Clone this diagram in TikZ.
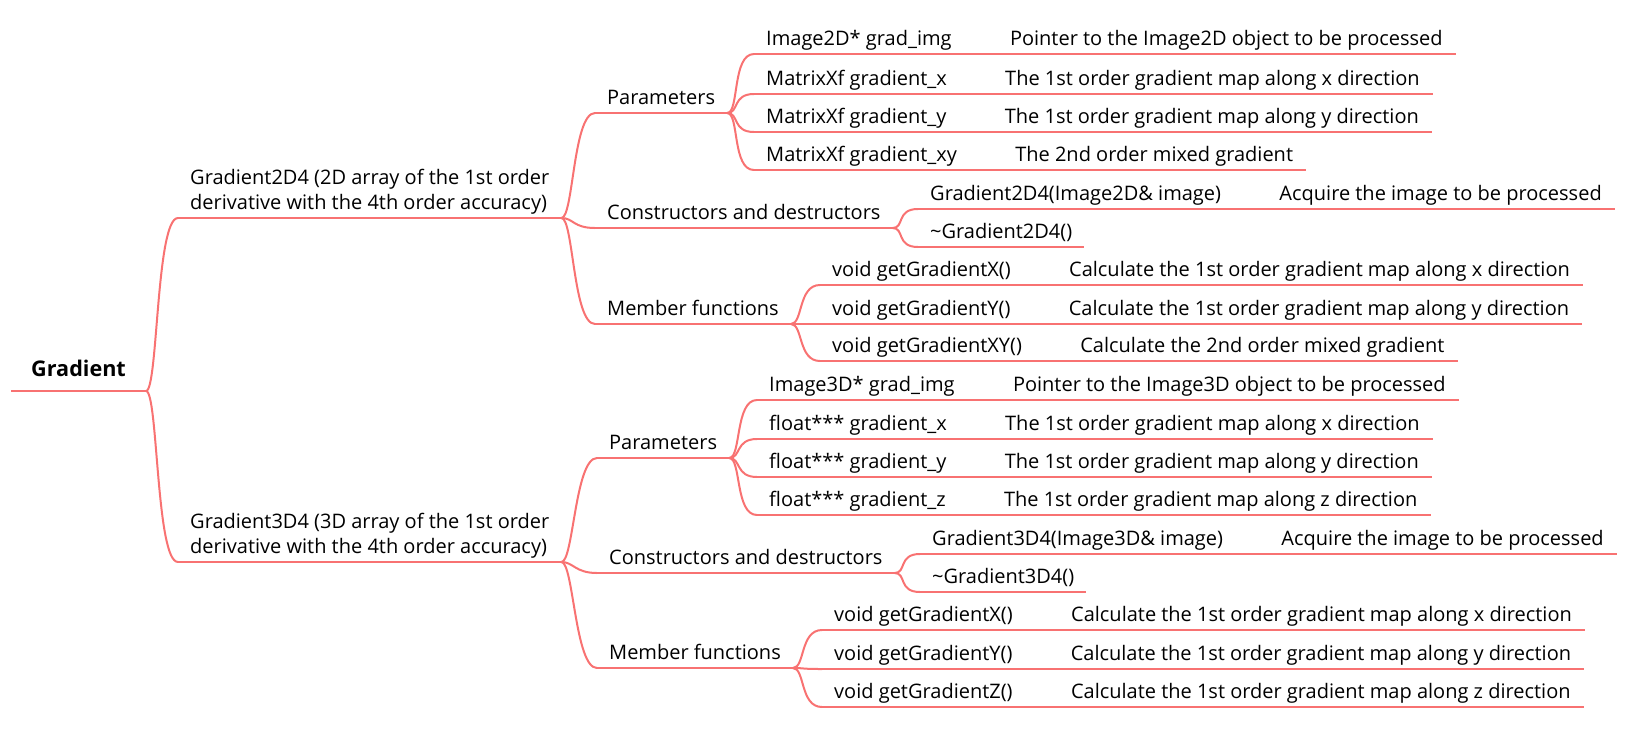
\documentclass[tikz,border=0pt]{standalone}
\usepackage{fontspec}
\setmainfont{Open Sans}
\usepackage{tikz}
\usetikzlibrary{positioning}
\definecolor{branchRed}{RGB}{248,114,114}

\begin{document}
\begin{tikzpicture}[x=1pt, y=-1pt,
  branch/.style={draw=branchRed, line width=2pt},
  topic/.style={anchor=south west, inner xsep=12pt, inner ysep=8pt, text depth=0pt,
    font=\fontsize{20}{25}\selectfont},
  rootnode/.style={topic, inner xsep=20pt, inner ysep=14pt,
    font=\fontsize{21.6}{26}\selectfont\bfseries},
  desc/.style={topic, right=33pt of #1, anchor=south west, inner xsep=13pt}]
\useasboundingbox (0,0) rectangle (1629,732);

\node[rootnode] (root) at (11,391) {Gradient};

% Gradient2D4
\node[topic] (g2) at (178,218) {\begin{tabular}[b]{@{}l@{}}Gradient2D4 (2D array of the 1st order\\derivative with the 4th order accuracy)\end{tabular}};
\node[topic] (p2) at (595,113) {Parameters};
\node[topic] (c2) at (595,228) {Constructors and destructors};
\node[topic] (m2) at (595,324) {Member functions};

\node[topic] (p2a) at (754,54) {Image2D* grad\_img};
\node[topic] (p2b) at (754,94) {MatrixXf gradient\_x};
\node[topic] (p2c) at (754,132) {MatrixXf gradient\_y};
\node[topic] (p2d) at (754,170) {MatrixXf gradient\_xy};
\node[topic] (c2a) at (918,209) {Gradient2D4(Image2D\& image)};
\node[topic] (c2b) at (918,247) {\textasciitilde Gradient2D4()};
\node[topic] (m2a) at (820,285) {void getGradientX()};
\node[topic] (m2b) at (820,324) {void getGradientY()};
\node[topic] (m2c) at (820,361) {void getGradientXY()};

\node[desc=p2a.south east] (dp2a) {Pointer to the Image2D object to be processed};
\node[desc=p2b.south east] (dp2b) {The 1st order gradient map along x direction};
\node[desc=p2c.south east] (dp2c) {The 1st order gradient map along y direction};
\node[desc=p2d.south east] (dp2d) {The 2nd order mixed gradient};
\node[desc=c2a.south east] (dc2a) {Acquire the image to be processed};
\node[desc=m2a.south east] (dm2a) {Calculate the 1st order gradient map along x direction};
\node[desc=m2b.south east] (dm2b) {Calculate the 1st order gradient map along y direction};
\node[desc=m2c.south east] (dm2c) {Calculate the 2nd order mixed gradient};

% Gradient3D4
\node[topic] (g3) at (178,562) {\begin{tabular}[b]{@{}l@{}}Gradient3D4 (3D array of the 1st order\\derivative with the 4th order accuracy)\end{tabular}};
\node[topic] (p3) at (597,458) {Parameters};
\node[topic] (c3) at (597,573) {Constructors and destructors};
\node[topic] (m3) at (597,668) {Member functions};

\node[topic] (p3a) at (757,400) {Image3D* grad\_img};
\node[topic] (p3b) at (757,439) {float*** gradient\_x};
\node[topic] (p3c) at (757,477) {float*** gradient\_y};
\node[topic] (p3d) at (757,515) {float*** gradient\_z};
\node[topic] (c3a) at (920,554) {Gradient3D4(Image3D\& image)};
\node[topic] (c3b) at (920,592) {\textasciitilde Gradient3D4()};
\node[topic] (m3a) at (822,630) {void getGradientX()};
\node[topic] (m3b) at (822,669) {void getGradientY()};
\node[topic] (m3c) at (822,707) {void getGradientZ()};

\node[desc=p3a.south east] (dp3a) {Pointer to the Image3D object to be processed};
\node[desc=p3b.south east] (dp3b) {The 1st order gradient map along x direction};
\node[desc=p3c.south east] (dp3c) {The 1st order gradient map along y direction};
\node[desc=p3d.south east] (dp3d) {The 1st order gradient map along z direction};
\node[desc=c3a.south east] (dc3a) {Acquire the image to be processed};
\node[desc=m3a.south east] (dm3a) {Calculate the 1st order gradient map along x direction};
\node[desc=m3b.south east] (dm3b) {Calculate the 1st order gradient map along y direction};
\node[desc=m3c.south east] (dm3c) {Calculate the 1st order gradient map along z direction};

% underlines
\foreach \n in {root,g2,p2,c2,m2,p2a,p2b,p2c,p2d,c2a,c2b,m2a,m2b,m2c,
    dp2a,dp2b,dp2c,dp2d,dc2a,dm2a,dm2b,dm2c,
    g3,p3,c3,m3,p3a,p3b,p3c,p3d,c3a,c3b,m3a,m3b,m3c,
    dp3a,dp3b,dp3c,dp3d,dc3a,dm3a,dm3b,dm3c}
  \draw[branch] (\n.south west) -- (\n.south east);

% curved branches
\foreach \a/\b in {root/g2,root/g3,
    g2/p2,g2/c2,g2/m2,p2/p2a,p2/p2b,p2/p2c,p2/p2d,c2/c2a,c2/c2b,m2/m2a,m2/m2b,m2/m2c,
    g3/p3,g3/c3,g3/m3,p3/p3a,p3/p3b,p3/p3c,p3/p3d,c3/c3a,c3/c3b,m3/m3a,m3/m3b,m3/m3c}
  \draw[branch] (\a.south east) .. controls +(12,0) and +(-22,0) .. (\b.south west);

% straight links to descriptions
\foreach \a in {p2a,p2b,p2c,p2d,c2a,m2a,m2b,m2c,p3a,p3b,p3c,p3d,c3a,m3a,m3b,m3c}
  \draw[branch] (\a.south east) -- (d\a.south west);
\end{tikzpicture}
\end{document}
